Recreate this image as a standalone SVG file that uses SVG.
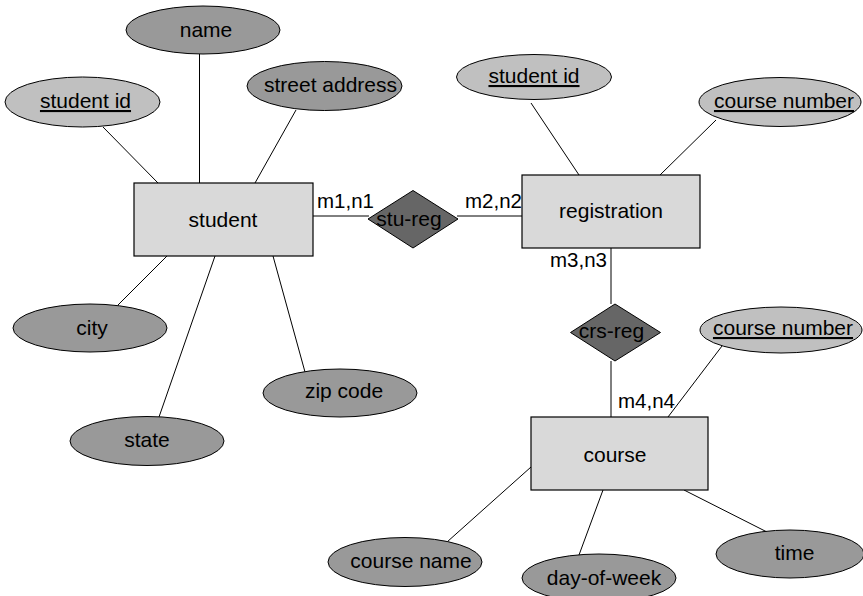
<svg xmlns="http://www.w3.org/2000/svg" width="863" height="596" viewBox="0 0 863 596">
  <style>
    text { font-family: "Liberation Sans", Arial, Helvetica, sans-serif; font-size: 21px; fill: #000; text-anchor: middle; }
    .lbl { font-size: 20.5px; text-anchor: start; }
    .key { text-decoration: underline; }
    .attr { fill: #999999; stroke: #000; stroke-width: 1; }
    .keyattr { fill: #c0c0c0; stroke: #000; stroke-width: 1; }
    .entity { fill: #d9d9d9; stroke: #000; stroke-width: 1.2; }
    .rel { fill: #666666; stroke: #000; stroke-width: 1; }
    #connectors line { stroke: #000; stroke-width: 1; }
  </style>
  <rect width="863" height="596" fill="#fff"/>

  <!-- connectors between entities, relationships and attributes -->
  <g id="connectors">
    <line x1="103" y1="127" x2="158" y2="183"/>
    <line x1="199.5" y1="54" x2="199.5" y2="183"/>
    <line x1="296" y1="110" x2="255" y2="183"/>
    <line x1="118" y1="305" x2="167" y2="256"/>
    <line x1="159" y1="417" x2="215" y2="256"/>
    <line x1="305" y1="372" x2="273" y2="256"/>
    <line x1="313" y1="216" x2="369" y2="216"/>
    <line x1="457" y1="216" x2="522" y2="216"/>
    <line x1="531" y1="103" x2="579" y2="175"/>
    <line x1="716" y1="120" x2="660" y2="175"/>
    <line x1="611" y1="248" x2="611" y2="304"/>
    <line x1="611" y1="361" x2="611" y2="417"/>
    <line x1="722" y1="346" x2="668" y2="417"/>
    <line x1="447" y1="542" x2="531" y2="467"/>
    <line x1="579" y1="555" x2="603" y2="490"/>
    <line x1="684" y1="490" x2="767" y2="532"/>
    <text class="lbl" x="317" y="208">m1,n1</text>
    <text class="lbl" x="465" y="208">m2,n2</text>
    <text class="lbl" x="550" y="267">m3,n3</text>
    <text class="lbl" x="618" y="408">m4,n4</text>
  </g>

  <!-- student entity and its attributes -->
  <g id="student">
    <rect class="entity" x="134" y="183" width="179" height="73"/>
    <text x="223" y="227">student</text>
  </g>
  <g id="student-name">
    <ellipse class="attr" cx="203" cy="30" rx="77" ry="24"/>
    <text x="206" y="37">name</text>
  </g>
  <g id="student-id">
    <ellipse class="keyattr" cx="82.5" cy="102" rx="77.5" ry="25"/>
    <text class="key" x="85.5" y="108">student id</text>
  </g>
  <g id="street-address">
    <ellipse class="attr" cx="324.5" cy="86" rx="77.5" ry="24.5"/>
    <text x="330.5" y="92">street address</text>
  </g>
  <g id="city">
    <ellipse class="attr" cx="90" cy="328" rx="77" ry="24"/>
    <text x="92" y="335">city</text>
  </g>
  <g id="state">
    <ellipse class="attr" cx="147" cy="441" rx="77" ry="24.5"/>
    <text x="147" y="447">state</text>
  </g>
  <g id="zip-code">
    <ellipse class="attr" cx="340" cy="393" rx="77" ry="24"/>
    <text x="344" y="398">zip code</text>
  </g>

  <!-- stu-reg relationship -->
  <g id="stu-reg">
    <polygon class="rel" points="413,190.5 458,219 413,248 368,219"/>
    <text x="409" y="226">stu-reg</text>
  </g>

  <!-- registration entity and its attributes -->
  <g id="registration">
    <rect class="entity" x="522" y="175" width="178" height="73"/>
    <text x="611" y="218">registration</text>
  </g>
  <g id="registration-student-id">
    <ellipse class="keyattr" cx="534" cy="77" rx="77.5" ry="22.5"/>
    <text class="key" x="534" y="83">student id</text>
  </g>
  <g id="registration-course-number">
    <ellipse class="keyattr" cx="780" cy="102" rx="81" ry="24.5"/>
    <text class="key" x="784" y="108">course number</text>
  </g>

  <!-- crs-reg relationship -->
  <g id="crs-reg">
    <polygon class="rel" points="615,304 660.5,332.5 615,361 570.5,332.5"/>
    <text x="611.5" y="338">crs-reg</text>
  </g>

  <!-- course entity and its attributes -->
  <g id="course">
    <rect class="entity" x="531" y="417" width="177" height="73"/>
    <text x="615" y="462">course</text>
  </g>
  <g id="course-number">
    <ellipse class="keyattr" cx="781" cy="330" rx="81" ry="23"/>
    <text class="key" x="783" y="335">course number</text>
  </g>
  <g id="course-name">
    <ellipse class="attr" cx="405" cy="562" rx="77" ry="24.5"/>
    <text x="411" y="568">course name</text>
  </g>
  <g id="day-of-week">
    <ellipse class="attr" cx="599" cy="578" rx="77" ry="24"/>
    <text x="604" y="585">day-of-week</text>
  </g>
  <g id="time">
    <ellipse class="attr" cx="790" cy="554" rx="74" ry="24"/>
    <text x="794.5" y="560">time</text>
  </g>
</svg>
